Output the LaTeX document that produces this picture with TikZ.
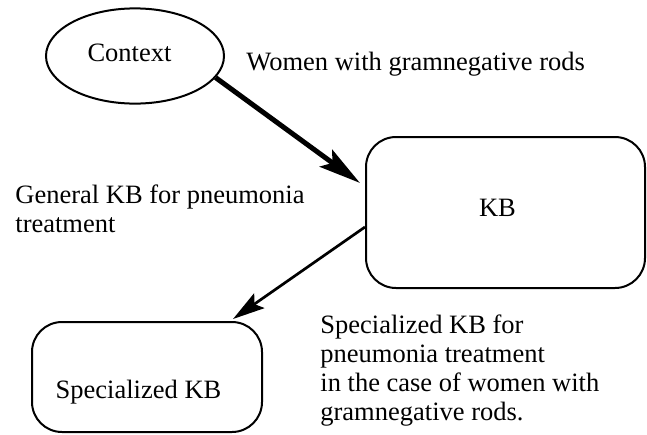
\documentclass[tikz,border=0pt]{standalone}
\usepackage{fontspec}
\setmainfont{Liberation Serif}
\usetikzlibrary{arrows.meta,shapes.geometric}
\begin{document}
\begin{tikzpicture}[x=0.5pt,y=-0.5pt,
  every node/.style={font=\fontsize{13.25pt}{14.5pt}\selectfont},
  ctxshape/.style={ellipse, draw, line width=1pt, minimum width=89pt,
    minimum height=47.6pt, inner sep=0pt},
  kbshape/.style={rectangle, rounded corners=15pt, draw, line width=1pt,
    inner sep=0pt},
  note/.style={anchor=base west, inner sep=0pt, align=left},
  boldlink/.style={line width=2.5pt,
    -{Stealth[length=21pt, width=10.5pt, inset=4pt]}},
  thinlink/.style={line width=1.35pt,
    -{Stealth[length=16pt, width=9pt, inset=3pt]}}]
  \useasboundingbox (0,0) rectangle (647,434);

  % shapes
  \node[ctxshape, label={[xshift=-2.75pt, yshift=1.75pt]center:Context}]
    (ctx) at (135,56) {};
  \node[kbshape, minimum width=139.5pt, minimum height=75.5pt,
    label={[xshift=-4pt, yshift=2.5pt]center:KB}]
    (kb) at (505.5,212.5) {};
  \node[kbshape, minimum width=115pt, minimum height=55pt,
    label={[xshift=-4.25pt, yshift=-7.5pt]center:Specialized KB}]
    (sp) at (147,377) {};

  % connectors
  \draw[boldlink] (ctx.-15) -- ([xshift=-2.5pt, yshift=14.75pt]kb.west);
  \draw[thinlink] ([yshift=-7.25pt]kb.west) -- ([xshift=-15pt, yshift=1pt]sp.north east);

  % annotations (multi-line nodes sit on the baseline of their last line)
  \node[note] (women) at (246,70) {Women with gramnegative rods};
  \node[note] (general) at (15,232) {General KB for pneumonia\\treatment};
  \node[note] (special) at (320,420) {Specialized KB for\\pneumonia treatment\\in the case of women with\\gramnegative rods.};
\end{tikzpicture}
\end{document}
